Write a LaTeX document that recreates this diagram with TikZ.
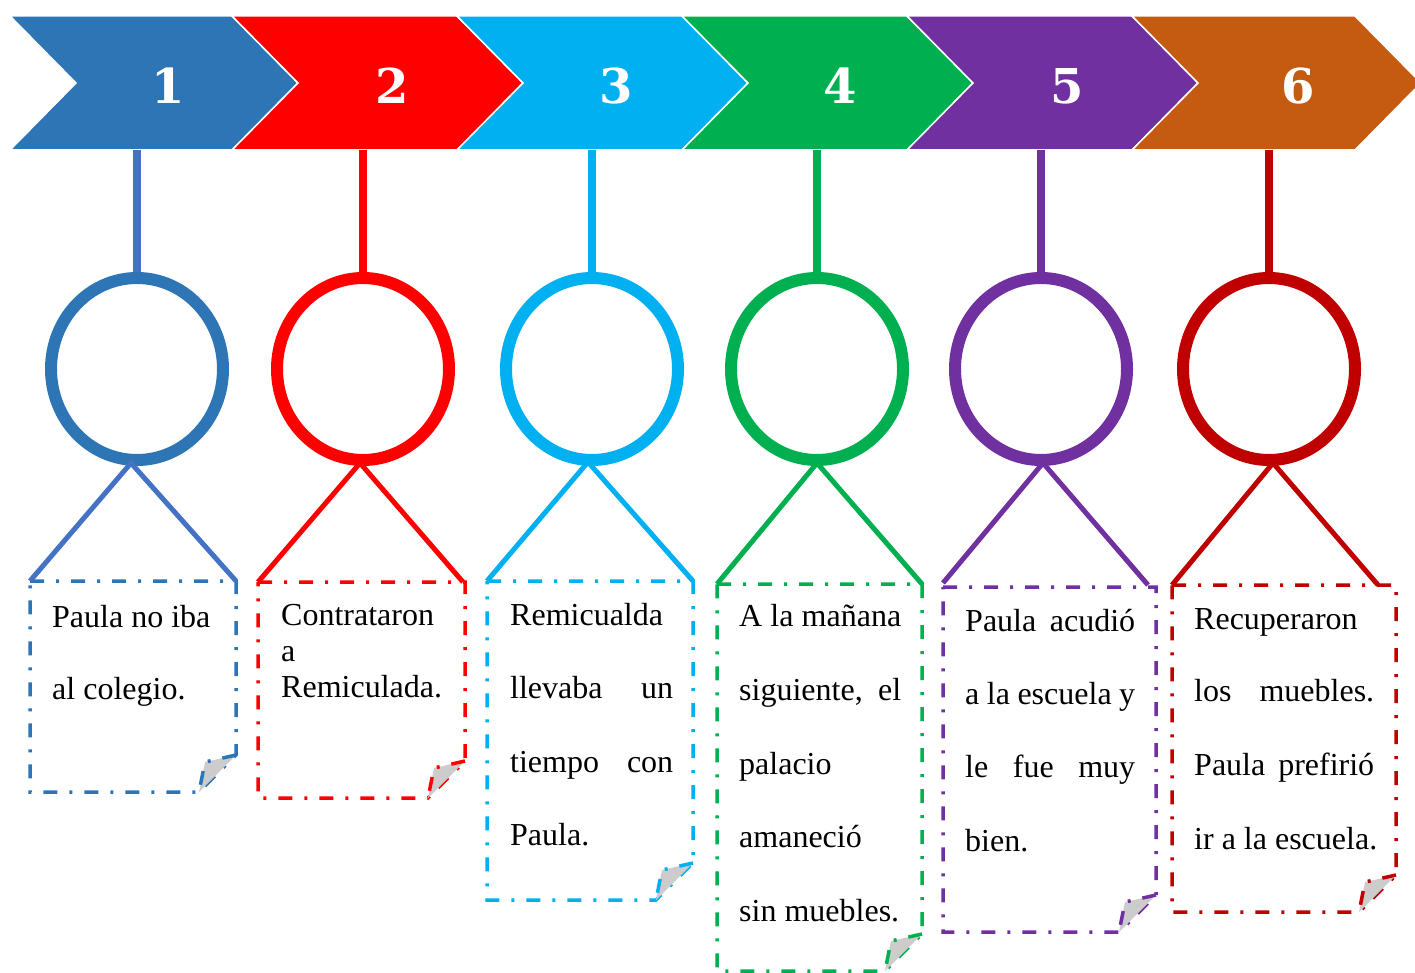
\documentclass[tikz,border=0pt]{standalone}
\usepackage{fontspec}
\setmainfont{Liberation Serif}
\newfontfamily\numfont{DejaVu Serif}
\usetikzlibrary{shapes.geometric}
\definecolor{cA}{HTML}{2E75B6}
\definecolor{cAs}{HTML}{4472C4}
\definecolor{cB}{HTML}{FF0000}
\definecolor{cC}{HTML}{00B0F0}
\definecolor{cD}{HTML}{00B050}
\definecolor{cE}{HTML}{7030A0}
\definecolor{cF}{HTML}{C55A11}
\definecolor{cFd}{HTML}{C00000}
\definecolor{foldgray}{HTML}{CCCCCC}
\tikzset{
  chev/.style={draw=white, line width=1.5pt},
  numtxt/.style={text=white, inner sep=0, font=\numfont\bfseries\fontsize{48}{48}\selectfont},
  stem/.style={line width=8pt},
  ring/.style={ellipse, draw, line width=12pt, minimum width=172pt, minimum height=182pt, inner sep=0},
  vline/.style={line width=5pt},
  boxline/.style={line width=3.5pt, dash pattern=on 14pt off 12pt on 3pt off 12pt},
  txt/.style={anchor=base west, inner sep=0, font=\fontsize{32}{36}\selectfont}
}
\newcommand{\foldbox}[6]{%
  \draw[boxline, draw=#2] (#3,#4) -- (#5,#4) -- (#5,#6-37) -- (#5-37,#6) -- (#3,#6) -- cycle;
  \filldraw[boxline, draw=#2, fill=foldgray] (#5,#6-37) -- (#5-31,#6-30) -- (#5-37,#6);
  \coordinate (#1) at (#3,#4);
}
\newcommand{\chevron}[4]{%
  \fill[#2, chev] (#3,16) -- (#4,16) -- (#4+66,83) -- (#4,150) -- (#3,150) -- (#3+66,83) -- cycle;
  \coordinate (#1) at (#3,16);
}
\begin{document}
\begin{tikzpicture}[x=1pt,y=-1pt]
\useasboundingbox (0,0) rectangle (1415,973);
\begin{scope}
\clip (0,0) rectangle (1415,973);
% chevrons
\chevron{h1}{cA}{10}{232}
\chevron{h2}{cB}{232}{457}
\chevron{h3}{cC}{457}{682}
\chevron{h4}{cD}{682}{907}
\chevron{h5}{cE}{907}{1132}
\chevron{h6}{cF}{1132}{1355}
\end{scope}
\node[numtxt] (n1) at (168,86) {1};
\node[numtxt] (n2) at (392,86) {2};
\node[numtxt] (n3) at (616,86) {3};
\node[numtxt] (n4) at (840,86) {4};
\node[numtxt] (n5) at (1067,86) {5};
\node[numtxt] (n6) at (1298,86) {6};
% stem anchors
\coordinate (s1) at (137,150);
\coordinate (s2) at (363,150);
\coordinate (s3) at (592,150);
\coordinate (s4) at (817,150);
\coordinate (s5) at (1041,150);
\coordinate (s6) at (1269,150);
% rings
\node[ring, draw=cA] (c1) at (137,369) {};
\node[ring, draw=cB] (c2) at (363,369) {};
\node[ring, draw=cC] (c3) at (592,369) {};
\node[ring, draw=cD] (c4) at (817,369) {};
\node[ring, draw=cE] (c5) at (1041,369) {};
\node[ring, draw=cFd] (c6) at (1269,369) {};
\draw[stem, cAs] (s1) -- (c1.north);
\draw[stem, cB] (s2) -- (c2.north);
\draw[stem, cC] (s3) -- (c3.north);
\draw[stem, cD] (s4) -- (c4.north);
\draw[stem, cE] (s5) -- (c5.north);
\draw[stem, cFd] (s6) -- (c6.north);
% apex points
\coordinate (a1) at (131,463);
\coordinate (a2) at (360,463);
\coordinate (a3) at (588,462);
\coordinate (a4) at (817,463);
\coordinate (a5) at (1043,463);
\coordinate (a6) at (1273,463);
% V ends
\coordinate (l1) at (30,581);   \coordinate (r1) at (236,581);
\coordinate (l2) at (258,582);  \coordinate (r2) at (463,582);
\coordinate (l3) at (487,581);  \coordinate (r3) at (693,581);
\coordinate (l4) at (717,584);  \coordinate (r4) at (922,584);
\coordinate (l5) at (943,583);  \coordinate (r5) at (1148,585);
\coordinate (l6) at (1172,585); \coordinate (r6) at (1378,585);
% boxes
\foldbox{b1}{cA}{30}{581}{236}{792}
\foldbox{b2}{cB}{258}{582}{465}{798}
\foldbox{b3}{cC}{487}{581}{693}{900}
\foldbox{b4}{cD}{717}{584}{922}{971}
\foldbox{b5}{cE}{943}{587}{1156}{932}
\foldbox{b6}{cFd}{1172}{585}{1396}{912}
% V lines
\draw[vline, cAs] (l1) -- (a1) -- (r1);
\draw[vline, cB] (l2) -- (a2) -- (r2);
\draw[vline, cC] (l3) -- (a3) -- (r3);
\draw[vline, cD] (l4) -- (a4) -- (r4);
\draw[vline, cE] (l5) -- (a5) -- (r5);
\draw[vline, cFd] (l6) -- (a6) -- (r6);
% texts box 1
\node[txt] (t11) at (52,627) {Paula no iba};
\node[txt] (t12) at (52,699) {al colegio.};
% box 2
\node[txt] (t21) at (281,625) {Contrataron};
\node[txt] (t22) at (281,661) {a};
\node[txt] (t23) at (281,697) {Remiculada.};
% box 3
\node[txt] (t31) at (510,625) {Remicualda};
\node[txt] (t32) at (510,698) {\makebox[163pt][s]{llevaba un}};
\node[txt] (t33) at (510,772) {\makebox[163pt][s]{tiempo con}};
\node[txt] (t34) at (510,845) {Paula.};
% box 4
\node[txt] (t41) at (739,626) {\makebox[162pt][s]{A la mañana}};
\node[txt] (t42) at (739,700) {\makebox[162pt][s]{siguiente, el}};
\node[txt] (t43) at (739,774) {palacio};
\node[txt] (t44) at (739,847) {amaneció};
\node[txt] (t45) at (739,921) {sin muebles.};
% box 5
\node[txt] (t51) at (965,631) {\makebox[170pt][s]{Paula acudió}};
\node[txt] (t52) at (965,704) {\makebox[170pt][s]{a la escuela y}};
\node[txt] (t53) at (965,777) {\makebox[170pt][s]{le fue muy}};
\node[txt] (t54) at (965,851) {bien.};
% box 6
\node[txt] (t61) at (1194,629) {Recuperaron};
\node[txt] (t62) at (1194,701) {\makebox[180pt][s]{los muebles.}};
\node[txt] (t63) at (1194,775) {\makebox[180pt][s]{Paula prefirió}};
\node[txt] (t64) at (1194,849) {ir a la escuela.};
\end{tikzpicture}
\end{document}
